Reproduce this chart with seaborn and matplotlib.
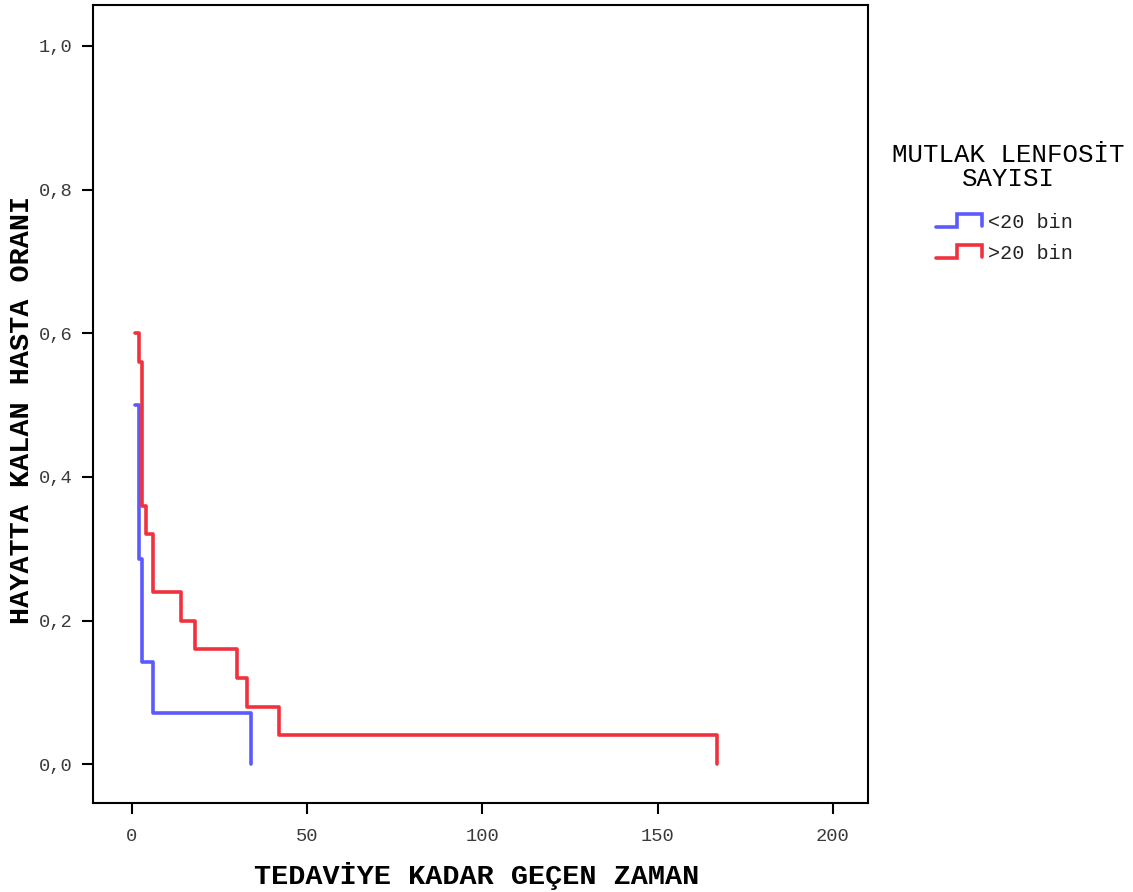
import matplotlib
matplotlib.use("Agg")
import matplotlib.pyplot as plt
from matplotlib.legend_handler import HandlerBase
from matplotlib.lines import Line2D
import numpy as np
import pandas as pd
import seaborn as sns

# Kaplan-Meier survival estimates per lymphocyte-count group
groups = ["<20 bin", ">20 bin"]
times_low = [1, 2, 3, 6, 34]
surv_low = [0.50, 0.2857, 0.1429, 0.0714, 0.0]
times_high = [1, 2, 3, 4, 6, 14, 18, 30, 33, 42, 167]
surv_high = [0.60, 0.56, 0.36, 0.32, 0.24, 0.20, 0.16, 0.12, 0.08, 0.04, 0.0]

x_ticks = [0, 50, 100, 150, 200]
y_ticks = [0.0, 0.2, 0.4, 0.6, 0.8, 1.0]

colors = {"<20 bin": "#5a5aff", ">20 bin": "#f0323e"}
LW = 2.6

df = pd.concat([
    pd.DataFrame({"zaman": times_low, "oran": surv_low, "grup": groups[0]}),
    pd.DataFrame({"zaman": times_high, "oran": surv_high, "grup": groups[1]}),
], ignore_index=True)

sns.set_theme(style="white")
plt.rcParams["font.family"] = ["Liberation Mono", "DejaVu Sans Mono"]

fig = plt.figure(figsize=(11.33, 8.92), dpi=100)
ax = fig.add_axes([93 / 1133, 1 - 803 / 892, (868 - 93) / 1133, (803 - 5) / 892])

sns.lineplot(data=df, x="zaman", y="oran", hue="grup", palette=colors,
             drawstyle="steps-post", sort=False, estimator=None,
             linewidth=LW, legend=False, ax=ax)

ax.set_xlim(-11, 210)
ax.set_ylim(-0.054, 1.057)
ax.set_xticks(x_ticks)
ax.set_xticklabels([str(v) for v in x_ticks])
ax.set_yticks(y_ticks)
ax.set_yticklabels([f"{v:.1f}".replace(".", ",") for v in y_ticks])

for sp in ax.spines.values():
    sp.set_visible(True)
    sp.set_color("black")
    sp.set_linewidth(1.5)

ax.tick_params(axis="both", which="major", direction="out", length=8,
               width=1.5, color="black", labelsize=13.5, labelcolor="#3a3a3a",
               bottom=True, left=True)
ax.tick_params(axis="x", pad=10)
ax.tick_params(axis="y", pad=7)

ax.set_xlabel("TEDAVİYE KADAR GEÇEN ZAMAN", fontsize=20.5, fontweight="bold",
              color="black")
ax.xaxis.set_label_coords((477 - 93) / 775, -(876 - 803) / 798)
ax.set_ylabel("HAYATTA KALAN HASTA ORANI", fontsize=20.5, fontweight="bold",
              color="black")
ax.yaxis.set_label_coords(-(93 - 22) / 775, (803 - 410) / 798)
ax.xaxis.label.set_va("center")
ax.yaxis.label.set_va("center")


class StepHandler(HandlerBase):
    def create_artists(self, legend, orig_handle, xdescent, ydescent,
                       width, height, fontsize, trans):
        xs = np.array([0.0, 0.46, 0.46, 1.0, 1.0]) * width - xdescent
        ys = np.array([0.1, 0.1, 0.95, 0.95, 0.15]) * height - ydescent
        line = Line2D(xs, ys, color=orig_handle.get_color(),
                      linewidth=orig_handle.get_linewidth(),
                      solid_joinstyle="miter", transform=trans)
        return [line]


fig.text(1008 / 1133, 1 - 167 / 892, "MUTLAK LENFOSİT\nSAYISI",
         ha="center", va="center", multialignment="center",
         fontsize=18.5, color="black", linespacing=1.0)

handles = [Line2D([], [], color=colors[g], linewidth=LW) for g in groups]
leg = fig.legend(handles, groups, loc="center left",
                 bbox_to_anchor=(936 / 1133, 1 - 238 / 892),
                 frameon=False, fontsize=14.5, borderaxespad=0, borderpad=0,
                 handler_map={Line2D: StepHandler()},
                 handlelength=2.3, handleheight=0.75, handletextpad=0.3,
                 labelspacing=0.6)
for t in leg.get_texts():
    t.set_color("#222222")

fig.savefig("out.png", dpi=100, facecolor="white")
